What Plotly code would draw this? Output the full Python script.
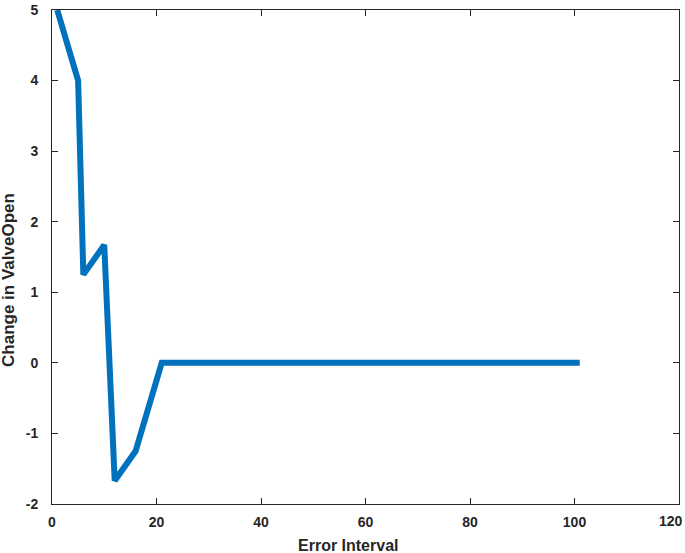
import plotly.graph_objects as go

error_interval = [1, 5, 6, 10, 12, 16, 21, 101]
change_valve_open = [5, 4, 1.25, 1.67, -1.67, -1.25, 0, 0]

x_ticks = [0, 20, 40, 60, 80, 100, 120]
x_tick_labels = ["0", "20", "40", "60", "80", "100", "120"]
y_ticks = [-2, -1, 0, 1, 2, 3, 4, 5]
y_tick_labels = ["-2", "-1", "0", "1", "2", "3", "4", "5"]

x_title = "Error Interval"
y_title = "Change in ValveOpen"

fig = go.Figure()
fig.add_trace(go.Scatter(
    x=error_interval, y=change_valve_open, mode="lines",
    line=dict(color="#0072BD", width=6), showlegend=False,
))

font_fam = "Arial, Liberation Sans"
tick_font = dict(family=font_fam, size=14, color="#262626", weight="bold")
axis_common = dict(
    showgrid=False, zeroline=False, showline=True, linecolor="#262626", linewidth=1,
    mirror="ticks", ticks="inside", ticklen=6, tickcolor="#262626", tickwidth=1,
    automargin=False, ticklabeloverflow="allow", tickfont=tick_font,
)

# last x tick label is kept inside the window (as in the reference) via an annotation
shown_x_labels = x_tick_labels[:-1] + [""]

fig.update_layout(
    width=685, height=553,
    margin=dict(l=52, r=6, t=10, b=49),
    plot_bgcolor="white", paper_bgcolor="white",
    xaxis=dict(range=[0, 120], tickvals=x_ticks, ticktext=shown_x_labels,
               ticklabelstandoff=5, **axis_common),
    yaxis=dict(range=[-2, 5], tickvals=y_ticks, ticktext=y_tick_labels,
               ticklabelstandoff=10, **axis_common),
    annotations=[
        dict(text=x_tick_labels[-1], xref="paper", yref="paper",
             x=1, y=-0.0344, xanchor="right", yanchor="middle", xshift=6,
             showarrow=False, font=tick_font),
        dict(text="<b>" + x_title + "</b>", xref="paper", yref="paper",
             x=0.472, y=-0.085, xanchor="center", yanchor="middle", showarrow=False,
             font=dict(family=font_fam, size=16, color="#262626")),
        dict(text="<b>" + y_title + "</b>", xref="paper", yref="paper",
             x=-0.0703, y=0.4534, xanchor="center", yanchor="middle", showarrow=False,
             textangle=-90, font=dict(family=font_fam, size=17, color="#262626")),
    ],
)

fig.write_html("out.html", config={"displayModeBar": False},
               post_script="document.body.style.margin='0';")
